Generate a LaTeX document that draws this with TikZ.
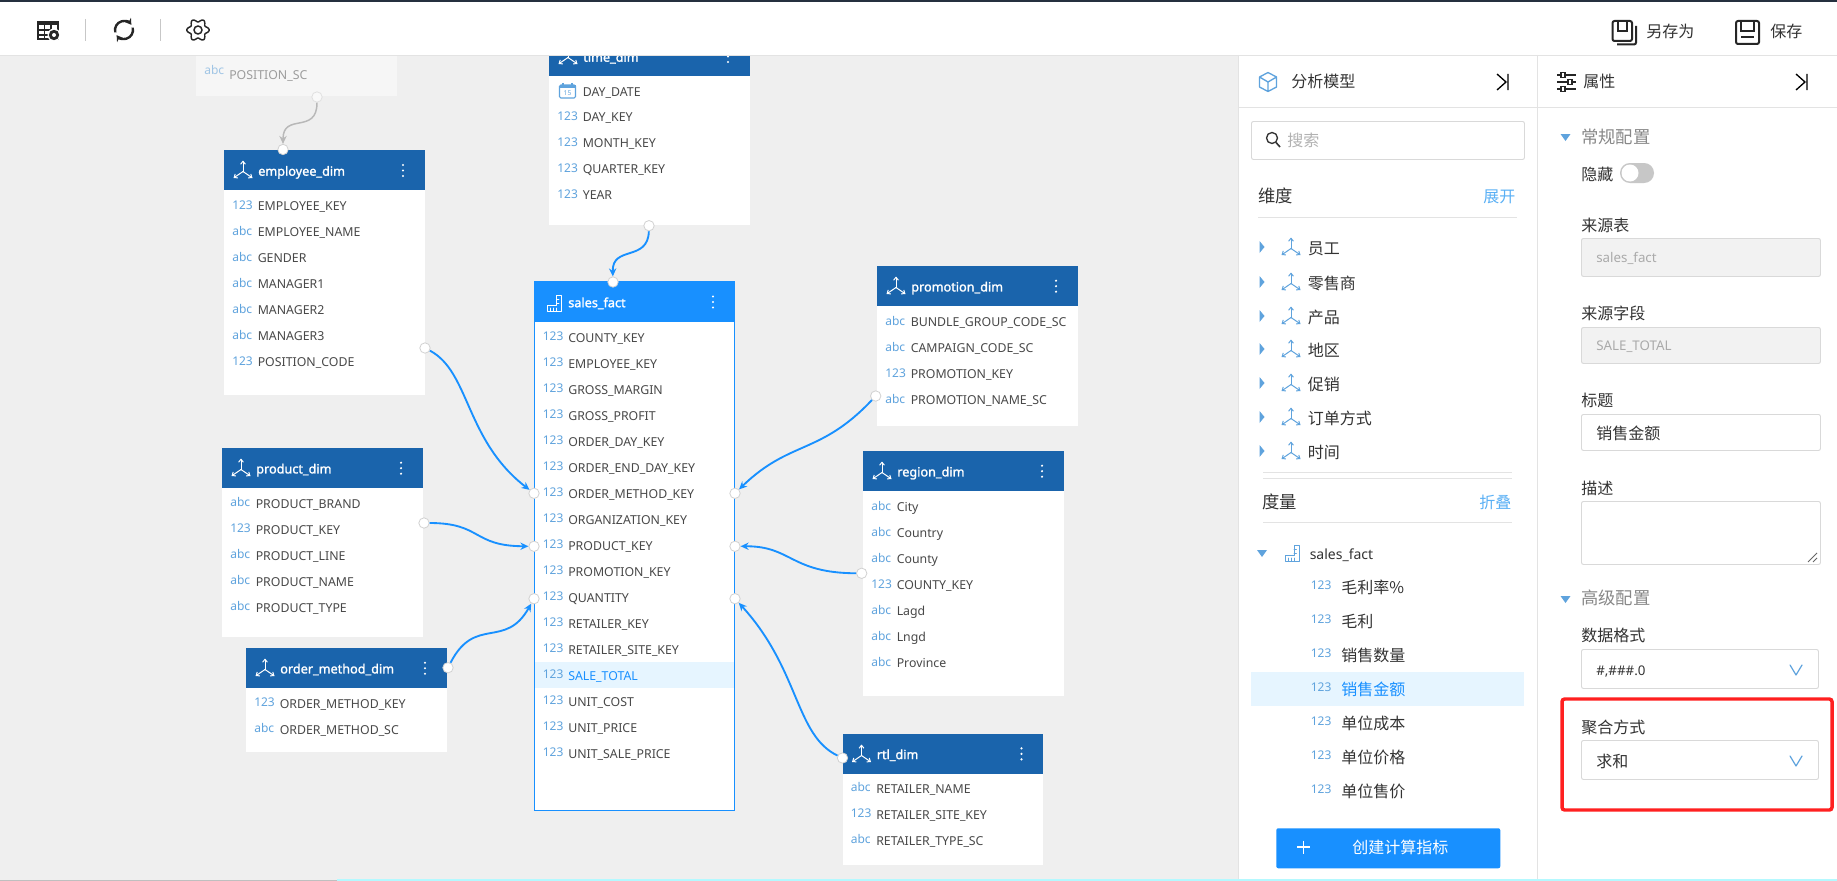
\documentclass[tikz,border=0pt]{standalone}
\usepackage{fontspec}
\setmainfont{Noto Sans}
\newfontfamily\cjk{Noto Sans CJK SC}
\newfontfamily\titlefont[FakeBold=1.6]{Noto Sans}
\usetikzlibrary{arrows.meta}
\definecolor{canvasbg}{HTML}{EFEFEF}
\definecolor{dimhead}{HTML}{1A64AC}
\definecolor{facthead}{HTML}{1890FF}
\definecolor{fieldtxt}{HTML}{484848}
\definecolor{typeblue}{HTML}{5FA3DD}
\definecolor{hilite}{HTML}{E6F5FF}
\definecolor{linkgray}{HTML}{E3E3E3}
\definecolor{inputline}{HTML}{D9D9D9}
\definecolor{disabledbg}{HTML}{F2F2F2}
\definecolor{txtdark}{HTML}{333333}
\definecolor{txtgray}{HTML}{888888}
\definecolor{txtlight}{HTML}{AAAAAA}
\definecolor{linkblue}{HTML}{5AB0F5}
\definecolor{redmark}{HTML}{FF2020}
\definecolor{topline}{HTML}{25303F}
\tikzset{
  lab/.style={inner sep=0pt,anchor=base west},
  tbody/.style={anchor=north west,inner sep=0pt,fill=white,draw=none},
  thead/.style={anchor=north west,inner sep=0pt,fill=dimhead,draw=none},
  ttitle/.style={lab,text=white,font=\titlefont\fontsize{9.5}{11}\selectfont},
  ftype/.style={lab,text=typeblue,font=\fontsize{9}{11}\selectfont},
  ftext/.style={lab,text=fieldtxt,font=\fontsize{9.25}{11}\selectfont},
  portdot/.style={circle,draw=black!18,fill=white,line width=.6pt,minimum size=7.8pt,inner sep=0pt},
  link/.style={draw=facthead,line width=1.4pt,-{Stealth[length=6pt,width=5.5pt]}},
  linkfade/.style={draw=black!28,line width=1.1pt,-{Stealth[length=6pt,width=5.5pt]}},
  cn/.style={lab,text=txtdark,font=\cjk\fontsize{12}{14}\selectfont},
  cnbig/.style={lab,text=txtdark,font=\cjk\fontsize{13}{15}\selectfont},
  latin/.style={lab,text=txtdark,font=\fontsize{10}{12}\selectfont},
  inputbox/.style={draw=inputline,line width=.7pt,rounded corners=1.5pt,fill=white},
  disabledbox/.style={draw=inputline,line width=.7pt,rounded corners=1.5pt,fill=disabledbg},
  rule/.style={draw=linkgray,line width=.7pt},
  icon/.style={line width=.75pt,line cap=round,line join=round},
}
% three-axis dimension glyph
\newcommand\dimicon[3]{\draw[icon,draw=#3,shift={(#1,#2)},-{Straight Barb[length=2.2pt,width=3.6pt]}] (0,1.5)--(0,-9.5);
  \draw[icon,draw=#3,shift={(#1,#2)},-{Straight Barb[length=2.2pt,width=3.6pt]}] (0,1.5)--(-9.5,8);
  \draw[icon,draw=#3,shift={(#1,#2)},-{Straight Barb[length=2.2pt,width=3.6pt]}] (0,1.5)--(9.5,8);}
% ruler glyph for fact table
\newcommand\facticon[3]{\draw[icon,draw=#3,shift={(#1,#2)}] (-7,2)--(2,2)--(2,-8)--(7,-8)--(7,8)--(-7,8)--cycle;
  \draw[icon,draw=#3,shift={(#1,#2)},line width=.6pt] (-4,8)--(-4,5) (-1,8)--(-1,5) (2,8)--(2,5) (2,-4)--(4.5,-4) (2,0)--(4.5,0);}
\newcommand\dotsicon[3]{\fill[#3] (#1,#2-5.5) circle (1.2) (#1,#2) circle (1.2) (#1,#2+5.5) circle (1.2);}
\newcommand\chevron[2]{\draw[draw=typeblue,line width=.9pt,line join=round,line cap=round] (#1-6,#2-5)--(#1,#2+5)--(#1+6,#2-5);}
\newcommand\treeright[2]{\fill[typeblue] (#1-2.5,#2-6)--(#1+2.5,#2)--(#1-2.5,#2+6)--cycle;}
\newcommand\treedown[2]{\fill[typeblue] (#1-5,#2-3)--(#1+5,#2-3)--(#1,#2+4)--cycle;}
\newcommand\collapseicon[2]{\draw[line width=1pt,black,line join=miter] (#1-5,#2-8)--(#1+4,#2)--(#1-5,#2+8) (#1+6,#2-8)--(#1+6,#2+8);}
% table: id, title, x, top, width, bottom
\newcommand\dbtable[7][dimhead]{%
  \node[tbody,minimum width={(#5)*0.75pt},minimum height={(#6-#4)*0.75pt}] (#2) at (#3,#4) {};
  \node[thead,fill=#1,minimum width={(#5)*0.75pt},minimum height=30pt] (#2head) at (#3,#4) {};
  \node[ttitle] (#2title) at (#3+34,#4+25.7) {#7};
  \dotsicon{#3+179}{#4+20.5}{white}
}
% rows: id, x, first y, list
\newcommand\dbrows[4]{%
  \foreach \ty/\tx [count=\n from 0] in {#4}{
    \node[ftype] (#1t\n) at (#2+8,#3+26*\n+3.4) {\ty};
    \node[ftext] (#1v\n) at (#2+33.5,#3+26*\n+4.8) {\tx};
  }}
\begin{document}
\begin{tikzpicture}[x=0.75pt,y=-0.75pt]
\useasboundingbox (0,0) rectangle (1837,881);
\fill[white] (0,0) rectangle (1837,881);
\fill[canvasbg] (0,55) rectangle (1238,881);

% faded table
\node[tbody,fill=white!45!canvasbg,minimum width=150.75pt,minimum height=45pt] (posdim) at (195.5,36) {};
\node[ftype,text=typeblue!55!canvasbg] (posT) at (204,74.5) {abc};
\node[ftext,text=fieldtxt!50!canvasbg] (posV) at (229,79.5) {POSITION\_SC};

% employee
\dbtable{emp}{224}{150}{200.5}{395}{employee\_dim}
\dimicon{243}{170}{white}
\dbrows{emp}{224}{206}{123/EMPLOYEE\_KEY,abc/EMPLOYEE\_NAME,abc/GENDER,abc/MANAGER1,abc/MANAGER2,abc/MANAGER3,123/POSITION\_CODE}

% time
\dbtable{time}{549}{36}{200.5}{225}{time\_dim}
\dimicon{568}{56}{white}
\dbrows{time}{549}{117}{123/DAY\_KEY,123/MONTH\_KEY,123/QUARTER\_KEY,123/YEAR}
\node[ftext] (timeV9) at (582.5,96.3) {DAY\_DATE};
\draw[line width=.8pt,typeblue,rounded corners=1pt] (559.5,85) rectangle (575.5,98);
\fill[typeblue] (559.5,85) rectangle (575.5,88.5);
\draw[line width=.9pt,typeblue] (563,83)--(563,86) (572,83)--(572,86);
\node[inner sep=0pt,text=typeblue,font=\fontsize{5}{5}\selectfont] (timeCal) at (567.5,93.3) {15};

% sales fact
\dbtable[facthead]{sales}{534}{281.5}{201}{811}{sales\_fact}
\fill[hilite] (535,661.5) rectangle (734,687.5);
\draw[facthead,line width=1.1pt] (534.4,281.9) rectangle (734.7,810.4);
\facticon{554.5}{303}{white}
\dbrows{sales}{534.5}{337.3}{123/COUNTY\_KEY,123/EMPLOYEE\_KEY,123/GROSS\_MARGIN,123/GROSS\_PROFIT,123/ORDER\_DAY\_KEY,123/ORDER\_END\_DAY\_KEY,123/ORDER\_METHOD\_KEY,123/ORGANIZATION\_KEY,123/PRODUCT\_KEY,123/PROMOTION\_KEY,123/QUANTITY,123/RETAILER\_KEY,123/RETAILER\_SITE\_KEY}
\node[ftype] (salesTt) at (542.5,678.7) {123};
\node[ftext,text=facthead] (salesTv) at (568,680.1) {SALE\_TOTAL};
\dbrows{salesb}{534.5}{701.3}{123/UNIT\_COST,123/UNIT\_PRICE,123/UNIT\_SALE\_PRICE}

% promotion
\dbtable{promo}{877}{265.7}{200.5}{425.7}{promotion\_dim}
\dimicon{896}{286}{white}
\dbrows{promo}{877}{321.7}{abc/BUNDLE\_GROUP\_CODE\_SC,abc/CAMPAIGN\_CODE\_SC,123/PROMOTION\_KEY,abc/PROMOTION\_NAME\_SC}

% region
\dbtable{region}{863}{450.7}{200.5}{696}{region\_dim}
\dimicon{882}{471}{white}
\dbrows{region}{863}{506.7}{abc/City,abc/Country,abc/County,123/COUNTY\_KEY,abc/Lagd,abc/Lngd,abc/Province}

% rtl
\dbtable{rtl}{842.5}{733.4}{200.5}{864.6}{rtl\_dim}
\dimicon{861.5}{754}{white}
\dbrows{rtl}{842.5}{788.5}{abc/RETAILER\_NAME,123/RETAILER\_SITE\_KEY,abc/RETAILER\_TYPE\_SC}

% product
\dbtable{prod}{222}{447.7}{200.8}{636.7}{product\_dim}
\dimicon{241}{468}{white}
\dbrows{prod}{222}{503.5}{abc/PRODUCT\_BRAND,123/PRODUCT\_KEY,abc/PRODUCT\_LINE,abc/PRODUCT\_NAME,abc/PRODUCT\_TYPE}

% order method
\dbtable{ord}{246}{647.7}{200.8}{751.3}{order\_method\_dim}
\dimicon{265}{668}{white}
\dbrows{ord}{246}{703.5}{123/ORDER\_METHOD\_KEY,abc/ORDER\_METHOD\_SC}

% ports
\node[portdot,draw=black!12,fill=white!60!canvasbg] (pPos) at (317,97) {};
\node[portdot] (pEmpTop) at (283,149.5) {};
\node[portdot] (pEmpR) at (425,348) {};
\node[portdot] (pTime) at (649,225.7) {};
\node[portdot] (pSalesTop) at (613,282) {};
\node[portdot] (pSL1) at (534,493.3) {};
\node[portdot] (pSL2) at (534,546.3) {};
\node[portdot] (pSL3) at (534,598.7) {};
\node[portdot] (pSR1) at (735,493.3) {};
\node[portdot] (pSR2) at (735,546.3) {};
\node[portdot] (pSR3) at (735,598.7) {};
\node[portdot] (pProd) at (424,523) {};
\node[portdot] (pOrd) at (448,667.7) {};
\node[portdot] (pPromo) at (875.7,396) {};
\node[portdot] (pRegion) at (861.7,573.3) {};
\node[portdot] (pRtl) at (842.5,758) {};

% connectors
\draw[linkfade] (pPos) .. controls (317,135) and (283,112) .. (pEmpTop);
\draw[link] (pTime) .. controls (648,262) and (612,245) .. (pSalesTop);
\draw[link] (pEmpR) .. controls (470,372) and (465,440) .. (pSL1);
\draw[link] (pProd) .. controls (482,523) and (472,546) .. (pSL2);
\draw[link] (pOrd) .. controls (475,615) and (505,650) .. (pSL3);
\draw[link] (pPromo) .. controls (820,455) and (790,440) .. (pSR1);
\draw[link] (pRegion) .. controls (790,573) and (792,546) .. (pSR2);
\draw[link] (pRtl) .. controls (795,735) and (800,670) .. (pSR3);

% toolbar
\fill[white] (0,0) rectangle (1837,55);
\fill[topline] (0,0) rectangle (1837,2.2);
\draw[rule] (0,55)--(1837,55);
\draw[rule,draw=black!22] (85,19)--(85,41) (160,19)--(160,41);
% table-gear icon
\draw[line width=1.1pt,black!85] (38,21.5) rectangle (58,39);
\fill[black!85] (38,21) rectangle (58,25);
\draw[line width=.9pt,black!85] (44.5,25)--(44.5,39) (51,25)--(51,33) (38,30)--(53,30) (38,35)--(50,35);
\fill[white] (54,35) circle (6.5);
\fill[black!85] (54,35) circle (5.2);
\fill[white] (54,35) circle (2);
% refresh
\draw[line width=1.8pt,black!85,-{Stealth[length=4.5pt,width=5.5pt]}] ([shift={(165:9)}]124,30) arc (165:325:9);
\draw[line width=1.8pt,black!85,-{Stealth[length=4.5pt,width=5.5pt]}] ([shift={(345:9)}]124,30) arc (345:505:9);
% gear
\draw[line width=1.1pt,black!85,line join=round,shift={(198,30)}] plot[domain=0:360,samples=73,smooth] ({(9.6+1.6*cos(6*\x))*cos(\x)},{(9.6+1.6*cos(6*\x))*sin(\x)}) -- cycle;
\draw[line width=1.1pt,black!85] (198,30) circle (4);
% save-as
\draw[line width=1.5pt,black!85,rounded corners=1.5pt] (1612.5,21) rectangle (1632,41);
\draw[line width=1.5pt,black!85] (1617.5,21)--(1617.5,31)--(1627,31)--(1627,21);
\draw[line width=1.5pt,black!85,rounded corners=1.5pt] (1636,26)--(1636,44.5)--(1617,44.5);
\node[cn] (saveasT) at (1646,38) {另存为};
% save
\draw[line width=1.5pt,black!85,rounded corners=1.5pt] (1736,21) rectangle (1759,44);
\draw[line width=1.5pt,black!85] (1741,21)--(1741,31)--(1754,31)--(1754,21) (1741,37)--(1754,37);
\node[cn] (saveT) at (1770,38) {保存};

% panels
\fill[white] (1238,55.7) rectangle (1837,879);
\draw[rule] (1238,55)--(1238,879) (1537,55)--(1537,879) (1238,107)--(1837,107);
\draw[line width=1pt,typeblue,line join=round] (1268,72.5)--(1276.5,77)--(1276.5,87)--(1268,91.5)--(1259.5,87)--(1259.5,77)--cycle (1259.5,77)--(1268,82)--(1276.5,77) (1268,82)--(1268,91.5);
\node[cn] (panelA) at (1291,88) {分析模型};
\collapseicon{1502}{82}
\draw[line width=1pt,black!85] (1557,75)--(1576,75) (1557,82)--(1576,82) (1557,89)--(1576,89);
\foreach \sx/\sy [count=\n] in {1563/75,1570/82,1563/89}{\draw[line width=.9pt,black!85,fill=white] (\sx-2,\sy-2.2) rectangle (\sx+2,\sy+2.2);}
\node[cn] (panelB) at (1583,88) {属性};
\collapseicon{1801}{82}

% search
\node[inputbox,anchor=north west,minimum width=204.75pt,minimum height=28.5pt,inner sep=0pt] (search) at (1251,121) {};
\draw[line width=1pt,black!80] (1272,138) circle (5.5);
\draw[line width=1.2pt,black!80] (1276,142.5)--(1280,147);
\node[cn,text=black!30] (searchT) at (1287,146) {搜索};

\node[cnbig] (dimHead) at (1258,202) {维度};
\node[cn,text=linkblue] (dimOpen) at (1483,202) {展开};
\draw[rule] (1258,217)--(1517,217);

\foreach \yy/\tt [count=\n] in {248/员工,283/零售商,317/产品,350/地区,384/促销,418/订单方式,452/时间}{
  \treeright{1262}{\yy-1}
  \dimicon{1291}{\yy-1}{typeblue}
  \node[cn] (dimItem\n) at (1307.5,\yy+6) {\tt};
}
\draw[rule] (1263,472)--(1512,472) (1263,478)--(1512,478);
\node[cnbig] (meaHead) at (1262,508) {度量};
\node[cn,text=linkblue] (meaFold) at (1479,508) {折叠};
\draw[rule] (1263,522)--(1512,522);
\treedown{1262}{553}
\facticon{1292}{553}{typeblue}
\node[latin,font=\fontsize{10.5}{12}\selectfont] (meaFact) at (1309.5,559) {sales\_fact};
\fill[hilite] (1251,672) rectangle (1524,706);
\foreach \yy/\tt [count=\n] in {587/毛利率\%,621/毛利,655/销售数量,723/单位成本,757/单位价格,791/单位售价}{
  \node[ftype] (meaT\n) at (1310.5,\yy+2) {123};
  \node[cn] (meaV\n) at (1341,\yy+6) {\tt};
}
\node[ftype] (meaTs) at (1310.5,691) {123};
\node[cn,text=facthead] (meaVs) at (1341,695) {销售金额};
\node[anchor=north west,fill=facthead,rounded corners=1.5pt,minimum width=168pt,minimum height=30pt,inner sep=0pt] (createBtn) at (1276,828) {};
\draw[white,line width=.9pt] (1297,847)--(1310,847) (1303.5,840.5)--(1303.5,853.5);
\node[cn,text=white] (createT) at (1352,853) {创建计算指标};

% right panel
\treedown{1565.5}{137}
\node[cnbig,text=txtgray] (secA) at (1581,143) {常规配置};
\node[cn] (hideT) at (1581,180) {隐藏};
\fill[black!22,rounded corners=7.4pt] (1620,163) rectangle (1654,183);
\fill[white] (1630,173) circle (8.5);
\node[cn] (srcTab) at (1581,231) {来源表};
\node[disabledbox,anchor=north west,minimum width=179.25pt,minimum height=28.5pt,inner sep=0pt] (srcTabBox) at (1581,238) {};
\node[latin,text=txtlight] (srcTabV) at (1596,262) {sales\_fact};
\node[cn] (srcField) at (1581,319) {来源字段};
\node[disabledbox,anchor=north west,minimum width=179.25pt,minimum height=27pt,inner sep=0pt] (srcFieldBox) at (1581,327) {};
\node[latin,text=txtlight] (srcFieldV) at (1596,350) {SALE\_TOTAL};
\node[cn] (titleT) at (1581,406) {标题};
\node[inputbox,anchor=north west,minimum width=179.25pt,minimum height=27pt,inner sep=0pt] (titleBox) at (1581,414) {};
\node[cn] (titleV) at (1596,439) {销售金额};
\node[cn] (descT) at (1581,494) {描述};
\node[inputbox,anchor=north west,minimum width=179.25pt,minimum height=47.25pt,inner sep=0pt] (descBox) at (1581,501) {};
\draw[line width=.7pt,black!60] (1808,562)--(1817,553) (1813,562)--(1817,558);
\treedown{1565.5}{599}
\node[cnbig,text=txtgray] (secB) at (1581,604) {高级配置};
\node[cn] (fmtT) at (1581,641) {数据格式};
\node[inputbox,anchor=north west,minimum width=177.75pt,minimum height=29.25pt,inner sep=0pt] (fmtBox) at (1581,649) {};
\node[latin] (fmtV) at (1596,675) {\#,\#\#\#.0};
\chevron{1796}{670}
\draw[redmark,line width=2.6pt,rounded corners=2pt] (1562,699) rectangle (1832,810);
\node[cn] (aggT) at (1581,733) {聚合方式};
\node[inputbox,anchor=north west,minimum width=177.75pt,minimum height=29.25pt,inner sep=0pt] (aggBox) at (1581,740) {};
\node[cn] (aggV) at (1596,767) {求和};
\chevron{1796}{761}

% bottom strip
\fill[black!25] (0,879.8) rectangle (337,881);
\fill[hilite!70!cyan!80!white] (337,879.3) rectangle (1837,881);
\end{tikzpicture}
\end{document}
